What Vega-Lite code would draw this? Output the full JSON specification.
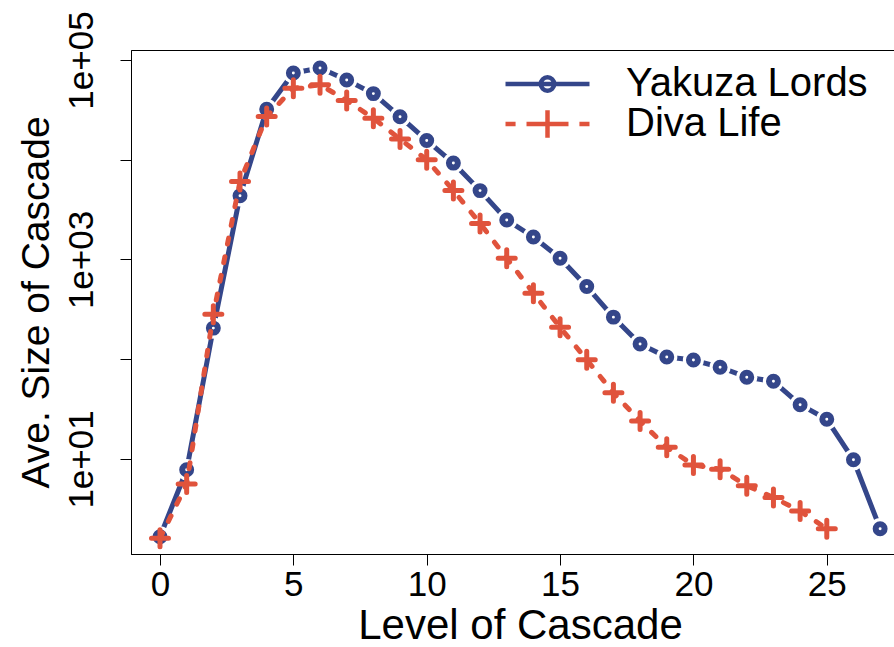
{
  "$schema": "https://vega.github.io/schema/vega-lite/v6.json",
  "width": 763,
  "height": 504,
  "autosize": {"type": "none"},
  "padding": {"left": 131, "top": 50, "right": 0, "bottom": 93},
  "background": "white",
  "config": {
    "font": "Liberation Sans",
    "view": {"stroke": "black", "strokeWidth": 1},
    "axis": {
      "grid": false,
      "domainColor": "black",
      "tickColor": "black",
      "labelColor": "black",
      "titleColor": "black",
      "titleFontWeight": "normal",
      "labelFont": "Liberation Sans",
      "titleFont": "Liberation Sans"
    }
  },
  "data": {
    "values": [
      {"level": 0, "series": "Yakuza Lords", "size": 1.66},
      {"level": 1, "series": "Yakuza Lords", "size": 7.8},
      {"level": 2, "series": "Yakuza Lords", "size": 205},
      {"level": 3, "series": "Yakuza Lords", "size": 4350},
      {"level": 4, "series": "Yakuza Lords", "size": 32000},
      {"level": 5, "series": "Yakuza Lords", "size": 74000},
      {"level": 6, "series": "Yakuza Lords", "size": 83000},
      {"level": 7, "series": "Yakuza Lords", "size": 63000},
      {"level": 8, "series": "Yakuza Lords", "size": 46000},
      {"level": 9, "series": "Yakuza Lords", "size": 27000},
      {"level": 10, "series": "Yakuza Lords", "size": 15600},
      {"level": 11, "series": "Yakuza Lords", "size": 9250},
      {"level": 12, "series": "Yakuza Lords", "size": 4900},
      {"level": 13, "series": "Yakuza Lords", "size": 2490},
      {"level": 14, "series": "Yakuza Lords", "size": 1680},
      {"level": 15, "series": "Yakuza Lords", "size": 1030},
      {"level": 16, "series": "Yakuza Lords", "size": 535},
      {"level": 17, "series": "Yakuza Lords", "size": 264},
      {"level": 18, "series": "Yakuza Lords", "size": 142},
      {"level": 19, "series": "Yakuza Lords", "size": 105},
      {"level": 20, "series": "Yakuza Lords", "size": 98},
      {"level": 21, "series": "Yakuza Lords", "size": 83},
      {"level": 22, "series": "Yakuza Lords", "size": 66},
      {"level": 23, "series": "Yakuza Lords", "size": 60},
      {"level": 24, "series": "Yakuza Lords", "size": 35},
      {"level": 25, "series": "Yakuza Lords", "size": 25},
      {"level": 26, "series": "Yakuza Lords", "size": 9.8},
      {"level": 27, "series": "Yakuza Lords", "size": 2.0},
      {"level": 0, "series": "Diva Life", "size": 1.6},
      {"level": 1, "series": "Diva Life", "size": 5.6},
      {"level": 2, "series": "Diva Life", "size": 282},
      {"level": 3, "series": "Diva Life", "size": 6040},
      {"level": 4, "series": "Diva Life", "size": 27100},
      {"level": 5, "series": "Diva Life", "size": 52000},
      {"level": 6, "series": "Diva Life", "size": 56400},
      {"level": 7, "series": "Diva Life", "size": 39300},
      {"level": 8, "series": "Diva Life", "size": 26100},
      {"level": 9, "series": "Diva Life", "size": 16100},
      {"level": 10, "series": "Diva Life", "size": 9970},
      {"level": 11, "series": "Diva Life", "size": 4910},
      {"level": 12, "series": "Diva Life", "size": 2300},
      {"level": 13, "series": "Diva Life", "size": 1030},
      {"level": 14, "series": "Diva Life", "size": 459},
      {"level": 15, "series": "Diva Life", "size": 209},
      {"level": 16, "series": "Diva Life", "size": 98.5},
      {"level": 17, "series": "Diva Life", "size": 46},
      {"level": 18, "series": "Diva Life", "size": 24},
      {"level": 19, "series": "Diva Life", "size": 13.1},
      {"level": 20, "series": "Diva Life", "size": 8.7},
      {"level": 21, "series": "Diva Life", "size": 7.9},
      {"level": 22, "series": "Diva Life", "size": 5.4},
      {"level": 23, "series": "Diva Life", "size": 4.1},
      {"level": 24, "series": "Diva Life", "size": 3.0},
      {"level": 25, "series": "Diva Life", "size": 2.0}
    ]
  },
  "encoding": {
    "x": {
      "field": "level",
      "type": "quantitative",
      "scale": {"domain": [-1.087, 27.52], "nice": false, "zero": false},
      "axis": {
        "values": [0, 5, 10, 15, 20, 25],
        "tickSize": 11,
        "labelFontSize": 35,
        "labelBaseline": "alphabetic",
        "labelPadding": 30,
        "labelFlush": false,
        "labelOverlap": false,
        "title": "Level of Cascade",
        "titleFontSize": 42,
        "titleX": 389,
        "titleY": 84,
        "titleAlign": "center",
        "titleBaseline": "alphabetic"
      }
    },
    "y": {
      "field": "size",
      "type": "quantitative",
      "scale": {"type": "log", "domain": [1.1143, 125893], "nice": false, "zero": false},
      "axis": {
        "values": [10, 100, 1000, 10000, 100000],
        "labelExpr": "round(log(datum.value) / LN10) % 2 == 1 ? '1e+0' + round(log(datum.value) / LN10) : ''",
        "tickSize": 11,
        "labelFontSize": 35,
        "labelAngle": -90,
        "labelAlign": "center",
        "labelBaseline": "alphabetic",
        "labelPadding": 28,
        "labelOverlap": false,
        "title": "Ave. Size of Cascade",
        "titleFontSize": 39,
        "titleAngle": -90,
        "titleX": -83,
        "titleY": 252,
        "titleAlign": "center",
        "titleBaseline": "alphabetic"
      }
    }
  },
  "layer": [
    {
      "transform": [{"filter": "datum.series == 'Yakuza Lords'"}],
      "mark": {"type": "line", "color": "#34468A", "strokeWidth": 5, "strokeCap": "round", "strokeJoin": "round"}
    },
    {
      "transform": [{"filter": "datum.series == 'Yakuza Lords'"}],
      "mark": {"type": "point", "shape": "circle", "filled": true, "color": "white", "opacity": 1, "size": 450, "strokeWidth": 0}
    },
    {
      "transform": [{"filter": "datum.series == 'Yakuza Lords'"}],
      "mark": {"type": "point", "shape": "circle", "filled": false, "fill": "white", "stroke": "#34468A", "strokeWidth": 6, "opacity": 1, "size": 80}
    },
    {
      "transform": [{"filter": "datum.series == 'Diva Life'"}],
      "mark": {"type": "line", "color": "#E0533C", "strokeWidth": 5, "strokeDash": [6, 13], "strokeCap": "round", "strokeJoin": "round"}
    },
    {
      "transform": [{"filter": "datum.series == 'Diva Life'"}],
      "mark": {"type": "point", "shape": "M-1,0H1M0,-1V1", "filled": false, "stroke": "#E0533C", "strokeWidth": 5, "strokeCap": "round", "opacity": 1, "size": 289}
    },
    {
      "mark": {"type": "point", "filled": false, "opacity": 0, "size": 7056},
      "encoding": {
        "shape": {
          "field": "series",
          "type": "nominal",
          "scale": {
            "domain": ["Yakuza Lords", "Diva Life"],
            "range": [
              "M-1,0H1M-0.16,0A0.16,0.16,0,1,1,0.16,0A0.16,0.16,0,1,1,-0.16,0",
              "M-1,0H-0.76M-0.5,0H0.5M0.76,0H1M0,-0.33V0.33"
            ]
          },
          "legend": {
            "orient": "none",
            "legendX": 372,
            "legendY": 17,
            "title": null,
            "padding": 0,
            "rowPadding": 0,
            "clipHeight": 34,
            "symbolSize": 7056,
            "symbolStrokeWidth": 4.5,
            "symbolOpacity": 1,
            "labelFontSize": 40,
            "labelFont": "Liberation Sans",
            "labelColor": "black",
            "labelOffset": 34,
            "labelLimit": 400
          }
        },
        "stroke": {
          "field": "series",
          "type": "nominal",
          "scale": {"domain": ["Yakuza Lords", "Diva Life"], "range": ["#34468A", "#E0533C"]},
          "legend": {
            "orient": "none",
            "legendX": 372,
            "legendY": 17,
            "title": null,
            "padding": 0,
            "rowPadding": 0,
            "clipHeight": 34,
            "symbolSize": 7056,
            "symbolStrokeWidth": 4.5,
            "symbolOpacity": 1,
            "labelFontSize": 40,
            "labelFont": "Liberation Sans",
            "labelColor": "black",
            "labelOffset": 34,
            "labelLimit": 400
          }
        }
      }
    }
  ]
}
